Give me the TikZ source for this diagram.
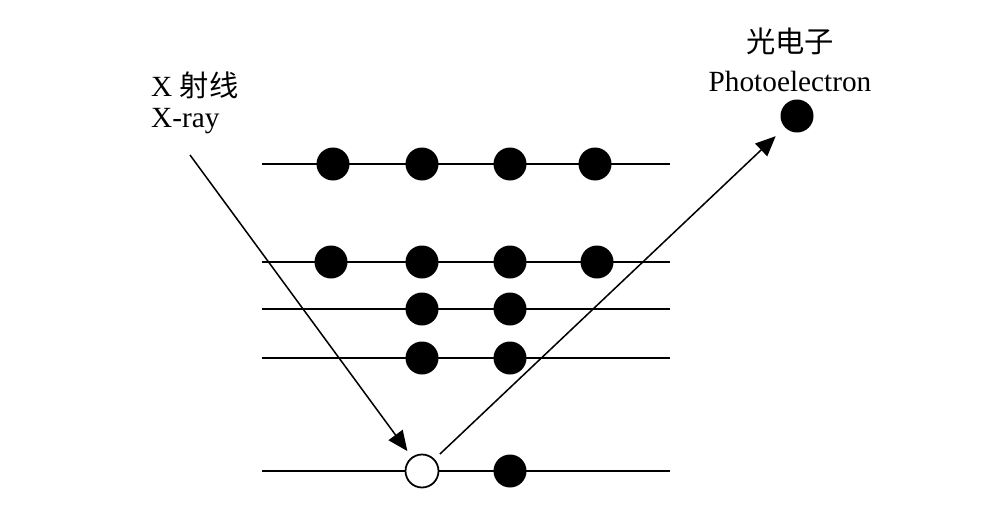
\documentclass[tikz,border=0pt]{standalone}
\usepackage{fontspec}
\setmainfont{Liberation Serif}
\newfontfamily\cjk{Noto Sans CJK SC}
\usetikzlibrary{arrows.meta}

\tikzset{
  dot/.style={circle,fill=black,inner sep=0pt,minimum size=0.99cm},
  hole/.style={circle,draw=black,fill=white,line width=1.5pt,inner sep=0pt,minimum size=0.99cm},
  level/.style={line width=1.6pt},
  ray/.style={->,line width=1.3pt}
}

\begin{document}
\begin{tikzpicture}[x=0.03cm,y=-0.03cm,>={Triangle[length=0.6cm,width=0.52cm]},font=\fontsize{25}{30}\selectfont,line cap=butt]
\useasboundingbox (0,0) rectangle (993,508);
% energy levels
\foreach \lv/\y in {1/164,2/262,3/309,4/358,5/471}{
  \coordinate (w\lv) at (262,\y);
  \coordinate (e\lv) at (670,\y);
  \draw[level] (w\lv) -- (e\lv);
}
% electrons
\node[dot] (a1) at (333,164) {};
\node[dot] (a2) at (422,164) {};
\node[dot] (a3) at (510,164) {};
\node[dot] (a4) at (595,164) {};
\node[dot] (b1) at (331,262) {};
\node[dot] (b2) at (422,262) {};
\node[dot] (b3) at (510,262) {};
\node[dot] (b4) at (597,262) {};
\node[dot] (c1) at (422,309) {};
\node[dot] (c2) at (510,309) {};
\node[dot] (d1) at (422,358) {};
\node[dot] (d2) at (510,358) {};
\node[hole] (vac) at (422,471) {};
\node[dot] (f2) at (510,471) {};
\node[dot] (pe) at (797,116) {};
% labels
\node[anchor=base west,inner sep=0pt] (xzh) at (151,97) {X {\cjk 射线}};
\node[anchor=base west,inner sep=0pt] (xen) at (151,127) {X-ray};
\node[anchor=base,inner sep=0pt] (pzh) at (790,53) {\cjk 光电子};
\node[anchor=base,inner sep=0pt] (pen) at (790,92) {Photoelectron};
% rays
\coordinate (xin) at (190,155);
\draw[ray,shorten >=0.22cm] (xin) -- (vac);
\draw[ray,shorten <=0.22cm,shorten >=0.38cm] (vac) -- (pe);
\end{tikzpicture}
\end{document}
